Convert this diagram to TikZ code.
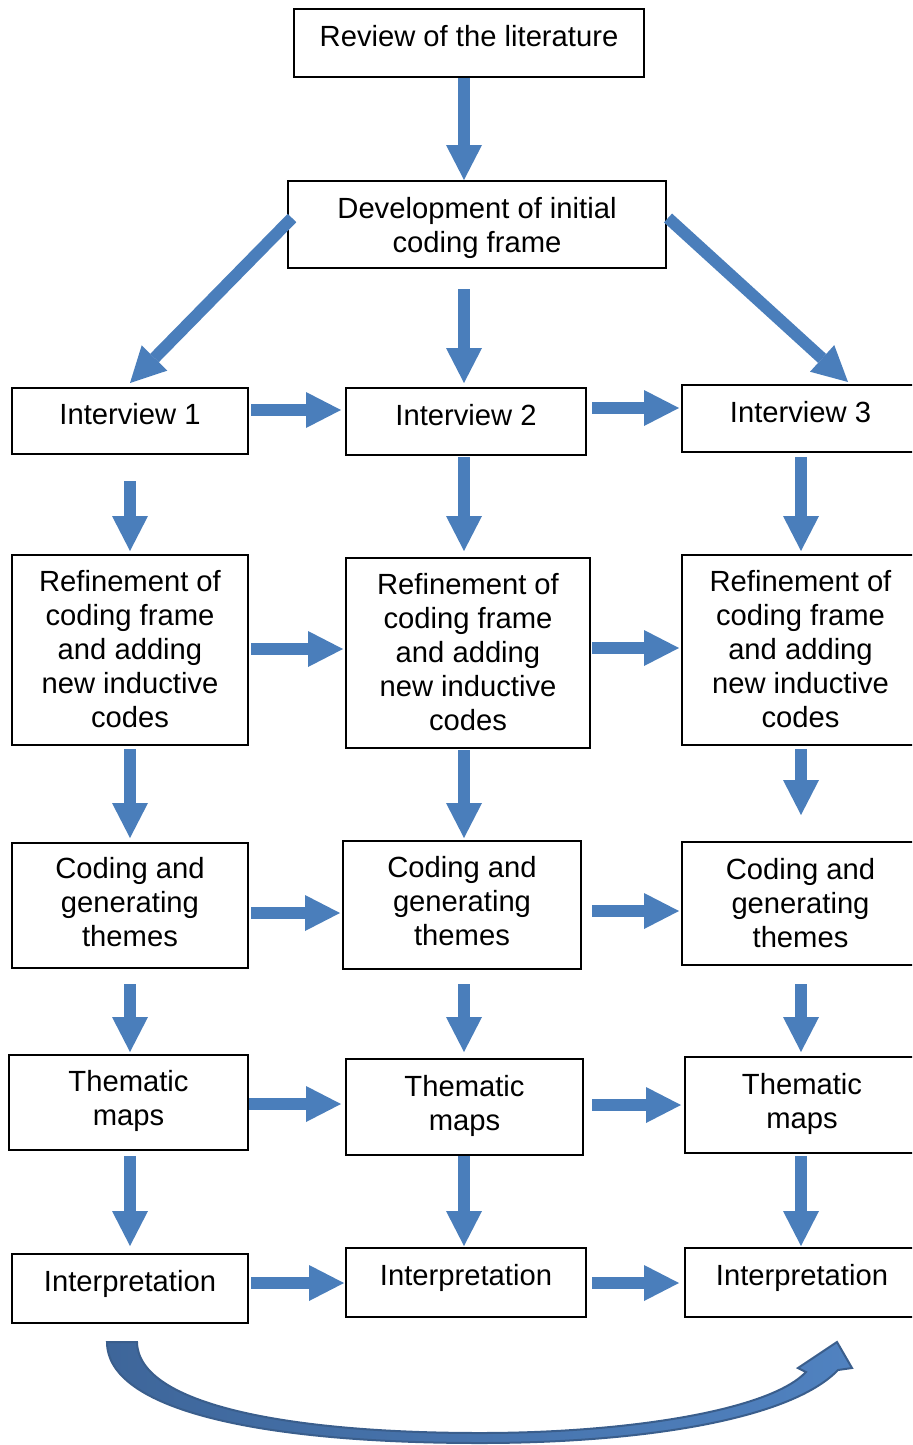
\documentclass[tikz,border=0pt]{standalone}
\usepackage{fontspec}
\setmainfont{Liberation Sans}
\usetikzlibrary{arrows.meta,calc}
\definecolor{ablue}{RGB}{74,126,187}
\definecolor{cdark}{RGB}{58,94,140}
\definecolor{cleft}{RGB}{62,102,154}
\definecolor{cright}{RGB}{80,130,192}
\newcommand\dn[1]{\rule[-#1]{0pt}{#1}}
\newcommand\up[1]{\rule{0pt}{#1}}
\begin{document}
\begin{tikzpicture}[x=0.5pt,y=-0.5pt,
  flowbox/.style 2 args={draw=black, line width=1pt, inner sep=0pt, align=center,
    font=\fontsize{14.6}{17}\selectfont, minimum width=#1*0.5pt, minimum height=#2*0.5pt},
  barrow/.style={draw=ablue, line width=6pt, line cap=butt,
    -{Triangle[length=17.5pt,width=18pt,line width=0pt]}}]
\useasboundingbox (0,0) rectangle (912,1445);
\clip (0,0) rectangle (912,1445);

% boxes
\node[flowbox={350}{68}] (rev) at (469,43) {Review of the literature\dn{6.8pt}};
\node[flowbox={378}{87}] (dev) at (477,224.5) {\up{13.6pt}Development of initial\\coding frame\dn{3pt}};

\node[flowbox={236}{66}] (i1) at (130,421) {Interview 1\dn{7pt}};
\node[flowbox={240}{67}] (i2) at (466,421.5) {Interview 2\dn{7pt}};
\node[flowbox={237}{67}] (i3) at (800.5,418.5) {Interview 3\dn{7pt}};

\node[flowbox={236}{190}] (r1) at (130,650) {\up{12.6pt}Refinement of\\coding frame\\and adding\\new inductive\\codes\dn{3pt}};
\node[flowbox={244}{190}] (r2) at (468,653) {\up{12.6pt}Refinement of\\coding frame\\and adding\\new inductive\\codes\dn{3pt}};
\node[flowbox={237}{190}] (r3) at (800.5,650) {\up{12.6pt}Refinement of\\coding frame\\and adding\\new inductive\\codes\dn{3pt}};

\node[flowbox={236}{125}] (c1) at (130,905.5) {Coding and\\generating\\themes\dn{3.8pt}};
\node[flowbox={238}{128}] (c2) at (462,905) {Coding and\\generating\\themes\dn{3.8pt}};
\node[flowbox={237}{123}] (c3) at (800.5,903.5) {Coding and\\generating\\themes\dn{0.5pt}};

\node[flowbox={239}{95}] (t1) at (128.5,1102.5) {Thematic\\maps\dn{4.3pt}};
\node[flowbox={237}{96}] (t2) at (464.5,1107) {Thematic\\maps\dn{4.3pt}};
\node[flowbox={234}{96}] (t3) at (802,1105) {Thematic\\maps\dn{3.8pt}};

\node[flowbox={236}{69}] (p1) at (130,1288.5) {Interpretation\dn{7.3pt}};
\node[flowbox={240}{69}] (p2) at (466,1282.5) {Interpretation\dn{7.3pt}};
\node[flowbox={234}{69}] (p3) at (802,1282.5) {Interpretation\dn{7.3pt}};

% arrows
\draw[barrow] ($(rev.south)+(-5,0)$) -- ($(dev.north)+(-13,0)$);
\draw[barrow] ($(dev.west)+(5,-6.5)$) -- ($(i1.north)+(0,-4)$);
\draw[barrow] ($(dev.south)+(-13,20)$) -- ($(i2.north)+(-2,-4)$);
\draw[barrow] ($(dev.east)+(1,-6.5)$) -- ($(i3.north)+(47.5,-2)$);

\draw[barrow] ($(i1.east)+(2,-11)$) -- ($(i2.west)+(-4,-11.5)$);
\draw[barrow] ($(i2.east)+(5,-13.5)$) -- ($(i3.west)+(-2,-10.5)$);
\draw[barrow] ($(i1.south)+(0,26)$) -- ($(r1.north)+(0,-3)$);
\draw[barrow] ($(i2.south)+(-2,1)$) -- ($(r2.north)+(-4,-6)$);
\draw[barrow] ($(i3.south)+(0.5,4)$) -- ($(r3.north)+(0.5,-3)$);

\draw[barrow] ($(r1.east)+(2,-1)$) -- ($(r2.west)+(-2,-4)$);
\draw[barrow] ($(r2.east)+(1,-5)$) -- ($(r3.west)+(-2,-2)$);
\draw[barrow] ($(r1.south)+(0,3)$) -- ($(c1.north)+(0,-4)$);
\draw[barrow] ($(r2.south)+(-4,1)$) -- ($(c2.north)+(2,-2)$);
\draw[barrow] ($(r3.south)+(0.5,3)$) -- ($(c3.north)+(0.5,-26)$);

\draw[barrow] ($(c1.east)+(2,7.5)$) -- ($(c2.west)+(-2,8)$);
\draw[barrow] ($(c2.east)+(10,6)$) -- ($(c3.west)+(-2,7.5)$);
\draw[barrow] ($(c1.south)+(0,15)$) -- ($(t1.north)+(1.5,-2)$);
\draw[barrow] ($(c2.south)+(2,14)$) -- ($(t2.north)+(-0.5,-6)$);
\draw[barrow] ($(c3.south)+(0.5,18)$) -- ($(t3.north)+(-1,-4)$);

\draw[barrow] ($(t1.east)+(0,1.5)$) -- ($(t2.west)+(-4,-3)$);
\draw[barrow] ($(t2.east)+(8,-2)$) -- ($(t3.west)+(-3,0)$);
\draw[barrow] ($(t1.south)+(1.5,5)$) -- ($(p1.north)+(0,-7)$);
\draw[barrow] ($(t2.south)+(-0.5,0)$) -- ($(p2.north)+(-2,-1)$);
\draw[barrow] ($(t3.south)+(-1,2)$) -- ($(p3.north)+(-1,-1)$);

\draw[barrow] ($(p1.east)+(2,-5.5)$) -- ($(p2.west)+(-1,0.5)$);
\draw[barrow] ($(p2.east)+(5,0.5)$) -- ($(p3.west)+(-5,0.5)$);

% curved arrow
\filldraw[draw=cdark, line width=1pt, left color=cleft, right color=cright]
  (107,1342) .. controls (107,1410) and (260,1443) .. (480,1443)
  .. controls (640,1443) and (790,1420) .. (838,1370)
  -- (852,1368) -- (837,1342) -- (798,1368) -- (806,1372)
  .. controls (770,1410) and (630,1433) .. (480,1433)
  .. controls (290,1433) and (138,1405) .. (137,1342) -- cycle;
\end{tikzpicture}
\end{document}
